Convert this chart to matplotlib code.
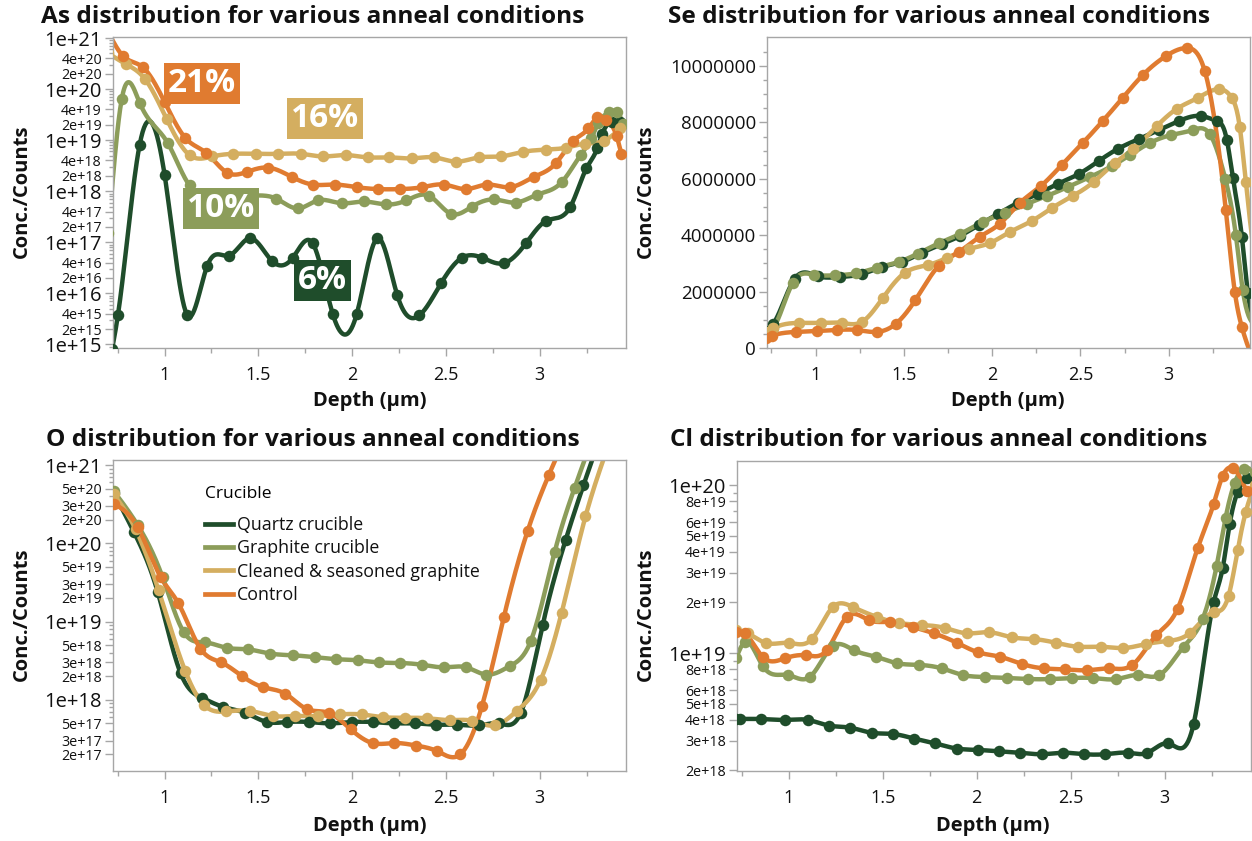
import numpy as np
import matplotlib
matplotlib.use('Agg')
import matplotlib.pyplot as plt
from matplotlib.lines import Line2D
from matplotlib.ticker import FixedLocator, FuncFormatter

plt.rcParams['font.family'] = ['Open Sans', 'DejaVu Sans']

# colours for the four crucible conditions
QUARTZ = '#1f4d2b'
GRAPHITE = '#8c9d5a'
CLEANED = '#d4ae60'
CONTROL = '#e07b30'
series_names = ['Quartz crucible', 'Graphite crucible', 'Cleaned & seasoned graphite', 'Control']

# ---- As (log scale) ----
as_q_x = [0.72, 0.751, 0.867, 1.0, 1.122, 1.228, 1.345, 1.456, 1.573, 1.684, 1.79, 1.897, 2.024, 2.135, 2.241,
          2.358, 2.475, 2.586, 2.692, 2.809, 2.926, 3.032, 3.164, 3.249, 3.308, 3.334, 3.387, 3.43]
as_q = [8e14, 3.7e15, 8.1e18, 2.1e18, 3.7e15, 3.5e16, 5.5e16, 1.2e17, 4.3e16, 5.0e16, 9.5e16, 3.9e15, 3.9e15, 1.2e17,
        9.1e15, 3.7e15, 1.6e16, 5.0e16, 5.0e16, 3.9e16, 9.5e16, 2.6e17, 5.0e17, 2.8e18, 7.1e18, 1.35e19, 2.3e19, 2.3e19]
as_g_x = [0.70, 0.772, 0.867, 1.016, 1.133, 1.24, 1.35, 1.46, 1.594, 1.711, 1.817, 1.944, 2.061, 2.178, 2.289, 2.411,
          2.528, 2.639, 2.756, 2.873, 2.984, 3.117, 3.218, 3.276, 3.313, 3.371, 3.414, 3.446]
as_g = [1.5e17, 6.5e19, 5.4e19, 8.9e18, 1.3e18, 8.9e17, 8.9e17, 8.3e17, 7.2e17, 4.6e17, 6.6e17, 5.8e17, 6.3e17, 5.5e17,
        6.6e17, 8.1e17, 3.6e17, 5.0e17, 6.9e17, 6.0e17, 8.5e17, 1.5e18, 5.1e18, 1.1e19, 2.2e19, 3.5e19, 3.5e19, 2.1e19]
as_c_x = [0.70, 0.793, 0.894, 1.011, 1.133, 1.255, 1.366, 1.488, 1.605, 1.727, 1.843, 1.966, 2.082, 2.199, 2.321, 2.438,
          2.554, 2.676, 2.793, 2.91, 3.032, 3.138, 3.239, 3.345, 3.43]
as_c = [5.0e20, 3.1e20, 1.6e20, 2.6e19, 5.1e18, 4.8e18, 5.4e18, 5.4e18, 5.4e18, 5.4e18, 4.8e18, 5.1e18, 4.6e18, 4.6e18,
        4.4e18, 4.6e18, 3.8e18, 4.6e18, 4.8e18, 5.9e18, 6.5e18, 7.1e18, 8.5e18, 9.8e18, 1.7e19]
as_k_x = [0.70, 0.777, 0.883, 1.0, 1.111, 1.223, 1.334, 1.44, 1.552, 1.679, 1.79, 1.907, 2.024, 2.14, 2.257, 2.374,
          2.49, 2.607, 2.719, 2.841, 2.968, 3.085, 3.18, 3.26, 3.308, 3.355, 3.41, 3.435]
as_k = [1.3e21, 4.5e20, 2.7e20, 5.6e19, 1.1e19, 5.6e18, 2.3e18, 2.4e18, 2.9e18, 1.9e18, 1.35e18, 1.35e18, 1.2e18, 1.1e18,
        1.1e18, 1.2e18, 1.35e18, 1.1e18, 1.35e18, 1.2e18, 1.9e18, 3.5e18, 9.8e18, 1.7e19, 2.8e19, 2.5e19, 1.2e19, 5.4e18]
as_labels = ['6%', '10%', '16%', '21%']
as_label_pos = [(1.843, 1.8e16), (1.302, 4.6e17), (1.854, 2.6e19), (1.2, 1.3e20)]

# ---- Se (linear scale) ----
se_q_x = [0.72, 0.76, 0.881, 1.011, 1.136, 1.261, 1.374, 1.487, 1.6, 1.714, 1.816, 1.924, 2.031, 2.144, 2.258, 2.371,
          2.49, 2.603, 2.711, 2.83, 2.943, 3.057, 3.181, 3.272, 3.329, 3.363, 3.414, 3.448, 3.5]
se_q = [0.6e6, 0.85e6, 2.45e6, 2.55e6, 2.52e6, 2.62e6, 2.87e6, 3.05e6, 3.37e6, 3.68e6, 3.97e6, 4.36e6, 4.75e6, 5.14e6,
        5.46e6, 5.82e6, 6.17e6, 6.63e6, 7.06e6, 7.41e6, 7.73e6, 8.05e6, 8.23e6, 8.05e6, 7.38e6, 6.03e6, 3.94e6, 1.95e6, 0.5e6]
se_g_x = [0.72, 0.76, 0.87, 0.99, 1.11, 1.23, 1.35, 1.47, 1.58, 1.70, 1.82, 1.946, 2.071, 2.195, 2.309, 2.428, 2.552,
          2.677, 2.779, 2.892, 3.011, 3.136, 3.232, 3.32, 3.38, 3.419, 3.5]
se_g = [0.5e6, 0.7e6, 2.3e6, 2.6e6, 2.58e6, 2.65e6, 2.85e6, 3.05e6, 3.35e6, 3.72e6, 4.05e6, 4.47e6, 4.79e6, 5.11e6,
        5.39e6, 5.71e6, 6.06e6, 6.45e6, 6.84e6, 7.27e6, 7.55e6, 7.73e6, 7.59e6, 6.0e6, 4.0e6, 2.06e6, 0.8e6]
se_c_x = [0.72, 0.76, 0.909, 1.028, 1.147, 1.261, 1.38, 1.504, 1.635, 1.742, 1.867, 1.986, 2.099, 2.224, 2.337, 2.456,
          2.575, 2.694, 2.80, 2.932, 3.045, 3.164, 3.283, 3.357, 3.402, 3.436, 3.5]
se_c = [0.55e6, 0.7e6, 0.89e6, 0.89e6, 0.89e6, 0.92e6, 1.77e6, 2.66e6, 2.94e6, 3.19e6, 3.51e6, 3.72e6, 4.11e6, 4.5e6,
        4.96e6, 5.39e6, 5.89e6, 6.56e6, 7.06e6, 7.87e6, 8.48e6, 8.87e6, 9.18e6, 8.87e6, 7.84e6, 5.89e6, 2.5e6]
se_k_x = [0.72, 0.751, 0.892, 1.006, 1.119, 1.232, 1.346, 1.453, 1.565, 1.697, 1.81, 1.929, 2.042, 2.156, 2.275, 2.394,
          2.513, 2.626, 2.739, 2.853, 2.983, 3.102, 3.204, 3.323, 3.374, 3.414, 3.47]
se_k = [0.35e6, 0.43e6, 0.57e6, 0.6e6, 0.64e6, 0.64e6, 0.57e6, 0.85e6, 1.7e6, 2.91e6, 3.4e6, 3.94e6, 4.4e6, 5.14e6,
        5.74e6, 6.49e6, 7.27e6, 8.05e6, 8.87e6, 9.68e6, 10.35e6, 10.64e6, 9.82e6, 4.89e6, 1.99e6, 0.74e6, -0.3e6]

# ---- O (log scale) ----
o_q_x = [0.73, 0.836, 0.963, 1.085, 1.202, 1.313, 1.43, 1.546, 1.653, 1.769, 1.881, 1.997, 2.109, 2.225, 2.337, 2.448,
         2.56, 2.676, 2.782, 2.899, 3.016, 3.138, 3.233, 3.34]
o_q = [4.4e20, 1.4e20, 2.4e19, 2.2e18, 1.05e18, 8.1e17, 6.8e17, 5.2e17, 5.2e17, 5.2e17, 5.0e17, 5.2e17, 5.2e17, 5.0e17,
       5.0e17, 4.8e17, 4.8e17, 4.7e17, 5.0e17, 6.8e17, 9.1e18, 1.1e20, 5.5e20, 3e21]
o_g_x = [0.73, 0.857, 0.989, 1.101, 1.218, 1.334, 1.446, 1.562, 1.684, 1.801, 1.912, 2.029, 2.141, 2.257, 2.374, 2.491,
         2.607, 2.714, 2.841, 2.952, 3.08, 3.186, 3.29]
o_g = [4.6e20, 1.7e20, 3.7e19, 7.4e18, 5.4e18, 4.6e18, 4.4e18, 3.9e18, 3.7e18, 3.5e18, 3.3e18, 3.2e18, 3.0e18, 2.95e18,
       2.8e18, 2.6e18, 2.6e18, 2.1e18, 2.7e18, 5.6e18, 7.8e19, 5.1e20, 2.5e21]
o_c_x = [0.73, 0.846, 0.968, 1.111, 1.212, 1.329, 1.456, 1.578, 1.695, 1.817, 1.934, 2.05, 2.162, 2.284, 2.401, 2.523,
         2.639, 2.761, 2.878, 3.005, 3.117, 3.244, 3.355]
o_c = [4.2e20, 1.5e20, 2.5e19, 2.3e18, 8.5e17, 7.1e17, 7.2e17, 6.2e17, 6.2e17, 6.2e17, 6.5e17, 6.5e17, 6.0e17, 5.9e17,
       5.8e17, 5.5e17, 5.4e17, 4.7e17, 7.2e17, 1.8e18, 1.3e19, 2.2e20, 1.5e21]
o_k_x = [0.73, 0.857, 0.979, 1.074, 1.191, 1.302, 1.414, 1.525, 1.642, 1.759, 1.875, 1.992, 2.109, 2.225, 2.342, 2.454,
         2.576, 2.692, 2.809, 2.936, 3.048, 3.16]
o_k = [3.2e20, 1.6e20, 3.7e19, 1.7e19, 4.5e18, 3.0e18, 2.0e18, 1.45e18, 1.2e18, 7.6e17, 6.8e17, 4.2e17, 2.8e17, 2.8e17,
       2.6e17, 2.2e17, 2.0e17, 8.3e17, 1.15e19, 1.45e20, 7.4e20, 3e21]

# ---- Cl (log scale) ----
cl_q_x = [0.72, 0.739, 0.851, 0.979, 1.101, 1.213, 1.325, 1.443, 1.555, 1.667, 1.779, 1.896, 2.008, 2.12, 2.232, 2.349,
          2.461, 2.573, 2.685, 2.803, 2.909, 3.021, 3.155, 3.261, 3.309, 3.347, 3.389, 3.437, 3.5]
cl_q = [4.05e18, 4.05e18, 4.05e18, 4.0e18, 4.0e18, 3.7e18, 3.6e18, 3.35e18, 3.3e18, 3.1e18, 2.9e18, 2.7e18, 2.65e18,
        2.6e18, 2.55e18, 2.5e18, 2.55e18, 2.5e18, 2.5e18, 2.55e18, 2.55e18, 2.9e18, 3.8e18, 2.0e19, 3.2e19, 5.9e19,
        9.1e19, 1.1e20, 1.2e20]
cl_g_x = [0.72, 0.765, 0.861, 0.995, 1.112, 1.235, 1.347, 1.464, 1.576, 1.693, 1.816, 1.928, 2.045, 2.163, 2.275, 2.392,
          2.509, 2.621, 2.744, 2.861, 2.973, 3.101, 3.203, 3.277, 3.325, 3.373, 3.421, 3.48]
cl_g = [9.3e18, 1.16e19, 8.4e18, 7.4e18, 7.2e18, 1.1e19, 1.04e19, 9.5e18, 8.7e18, 8.5e18, 8.1e18, 7.4e18, 7.2e18, 7.1e18,
        7.0e18, 7.0e18, 7.1e18, 7.1e18, 7.0e18, 7.4e18, 7.4e18, 1.09e19, 1.6e19, 3.3e19, 6.4e19, 1.03e20, 1.25e20, 1.2e20]
cl_c_x = [0.72, 0.781, 0.877, 1.0, 1.123, 1.235, 1.341, 1.469, 1.587, 1.709, 1.832, 1.949, 2.067, 2.189, 2.307, 2.424,
          2.541, 2.664, 2.781, 2.899, 3.016, 3.133, 3.261, 3.341, 3.389, 3.432, 3.48]
cl_c = [1.37e19, 1.31e19, 1.15e19, 1.15e19, 1.21e19, 1.88e19, 1.88e19, 1.64e19, 1.51e19, 1.47e19, 1.41e19, 1.31e19,
        1.33e19, 1.24e19, 1.21e19, 1.15e19, 1.09e19, 1.09e19, 1.07e19, 1.13e19, 1.18e19, 1.31e19, 1.75e19, 2.2e19,
        4.1e19, 6.9e19, 1.0e20]
cl_k_x = [0.72, 0.765, 0.861, 0.979, 1.091, 1.203, 1.309, 1.427, 1.539, 1.661, 1.773, 1.896, 2.008, 2.125, 2.243, 2.36,
          2.472, 2.589, 2.707, 2.829, 2.957, 3.069, 3.176, 3.261, 3.309, 3.363, 3.437]
cl_k = [1.33e19, 1.31e19, 9.5e18, 9.3e18, 9.7e18, 1.04e19, 1.64e19, 1.57e19, 1.53e19, 1.43e19, 1.31e19, 1.15e19,
        1.01e19, 9.5e18, 8.6e18, 8.1e18, 8.0e18, 7.9e18, 8.1e18, 8.5e18, 1.28e19, 1.83e19, 4.2e19, 7.7e19, 1.13e20,
        1.26e20, 9.2e19]

x_major = [1, 1.5, 2, 2.5, 3]
x_minor = [0.75, 1.25, 1.75, 2.25, 2.75, 3.25]
XLIM = (0.725, 3.46)
SPINE = '#a6a6a6'
W, H = 1252, 841


def smooth(x, y, num=700):
    # natural cubic spline through the measured points, like the smoother in the original
    x = np.asarray(x, float)
    y = np.asarray(y, float)
    n = len(x)
    h = np.diff(x)
    A = np.zeros((n, n))
    b = np.zeros(n)
    A[0, 0] = A[-1, -1] = 1
    for i in range(1, n - 1):
        A[i, i - 1] = h[i - 1]
        A[i, i] = 2 * (h[i - 1] + h[i])
        A[i, i + 1] = h[i]
        b[i] = 6 * ((y[i + 1] - y[i]) / h[i] - (y[i] - y[i - 1]) / h[i - 1])
    M = np.linalg.solve(A, b)
    xs = np.linspace(x[0], x[-1], num)
    k = np.clip(np.searchsorted(x, xs) - 1, 0, n - 2)
    t0 = x[k + 1] - xs
    t1 = xs - x[k]
    hk = h[k]
    ys = (M[k] * t0 ** 3 + M[k + 1] * t1 ** 3) / (6 * hk) + (y[k] / hk - M[k] * hk / 6) * t0 \
        + (y[k + 1] / hk - M[k + 1] * hk / 6) * t1
    return xs, ys


def draw(ax, x, y, color, log=True):
    if log:
        xs, ys = smooth(x, np.log10(y))
        ys = 10 ** ys
    else:
        xs, ys = smooth(x, y)
    ax.plot(xs, ys, color=color, lw=3.2, solid_capstyle='round', zorder=2)
    ax.plot(x, y, 'o', color=color, ms=8.3, mew=0, zorder=3)


def sci(v):
    e = int(np.floor(np.log10(v) + 1e-9))
    m = int(round(v / 10 ** e))
    return f'{m}e+{e}'


def style(ax):
    for s in ax.spines.values():
        s.set_color(SPINE)
        s.set_linewidth(1.0)
    ax.set_xlim(*XLIM)
    ax.xaxis.set_major_locator(FixedLocator(x_major))
    ax.xaxis.set_minor_locator(FixedLocator(x_minor))
    ax.xaxis.set_major_formatter(FuncFormatter(lambda v, p: f'{v:g}'))
    ax.tick_params(axis='x', which='major', length=6, width=1, color=SPINE, labelsize=13, pad=7, labelcolor='#111111')
    ax.tick_params(axis='x', which='minor', length=3.5, width=1, color=SPINE)
    ax.tick_params(axis='y', which='both', width=1, color=SPINE, labelcolor='#111111', pad=2)


def log_axis(ax, lo, hi, labeled, ylim):
    ax.set_yscale('log')
    ax.set_ylim(*ylim)
    major = []
    minor = []
    for e in range(lo - 1, hi + 1):
        for m in range(1, 10):
            v = m * 10.0 ** e
            if v < ylim[0] * 0.999 or v > ylim[1] * 1.001:
                continue
            if m == 1 or m in labeled:
                major.append(v)
            else:
                minor.append(v)
    ax.yaxis.set_major_locator(FixedLocator(major))
    ax.yaxis.set_minor_locator(FixedLocator(minor))
    ax.yaxis.set_major_formatter(FuncFormatter(lambda v, p: sci(v)))
    ax.tick_params(axis='y', which='major', length=6)
    ax.tick_params(axis='y', which='minor', length=3, labelleft=False)
    for t, v in zip(ax.yaxis.get_major_ticks(), major):
        t.label1.set_fontsize(14.5 if sci(v).startswith('1e') else 10.3)


fig = plt.figure(figsize=(W / 100, H / 100), dpi=100)


def add_axes(l, r, t, b):
    return fig.add_axes([l / W, 1 - b / H, (r - l) / W, (b - t) / H])


ax_as = add_axes(113, 626, 37, 348)
ax_se = add_axes(767, 1250, 37, 348)
ax_o = add_axes(113, 626, 460, 771)
ax_cl = add_axes(737, 1251, 461, 771)

colors = [QUARTZ, GRAPHITE, CLEANED, CONTROL]

# As panel
for (x, y), c in zip([(as_q_x, as_q), (as_g_x, as_g), (as_c_x, as_c), (as_k_x, as_k)], colors):
    draw(ax_as, x, y, c)
style(ax_as)
log_axis(ax_as, 15, 21, [2, 4], (10 ** 14.93, 10 ** 21.02))
for lab, (px, py), c in zip(as_labels, as_label_pos, colors):
    ax_as.text(px, py, lab, color='white', fontsize=24, weight='bold', ha='center', va='center', zorder=5,
               bbox=dict(boxstyle='square,pad=0.12', fc=c, ec='none'))

# Se panel
for (x, y), c in zip([(se_q_x, se_q), (se_g_x, se_g), (se_c_x, se_c), (se_k_x, se_k)], colors):
    draw(ax_se, x, y, c, log=False)
style(ax_se)
ax_se.set_ylim(0, 11.03e6)
ax_se.yaxis.set_major_locator(FixedLocator([0, 2e6, 4e6, 6e6, 8e6, 10e6]))
ax_se.yaxis.set_minor_locator(FixedLocator(np.arange(0, 11.0e6, 0.5e6)))
ax_se.yaxis.set_major_formatter(FuncFormatter(lambda v, p: f'{int(v)}'))
ax_se.tick_params(axis='y', which='major', length=6, labelsize=13.5)
ax_se.tick_params(axis='y', which='minor', length=3)

# O panel
for (x, y), c in zip([(o_q_x, o_q), (o_g_x, o_g), (o_c_x, o_c), (o_k_x, o_k)], colors):
    draw(ax_o, x, y, c)
style(ax_o)
log_axis(ax_o, 17, 21, [2, 3, 5], (10 ** 17.09, 10 ** 21.064))
handles = [Line2D([], [], color=c, lw=3.4) for c in colors]
leg = ax_o.legend(handles, series_names, title='Crucible', loc='upper left', bbox_to_anchor=(0.162, 0.945),
                  frameon=False, fontsize=12.8, title_fontsize=12.5, handlelength=1.6, handletextpad=0.2,
                  labelspacing=0.3, borderpad=0, alignment='left')
leg._legend_box.sep = 10
for t in leg.get_texts():
    t.set_color('#111111')

# Cl panel
for (x, y), c in zip([(cl_q_x, cl_q), (cl_g_x, cl_g), (cl_c_x, cl_c), (cl_k_x, cl_k)], colors):
    draw(ax_cl, x, y, c)
style(ax_cl)
log_axis(ax_cl, 18, 20, [2, 3, 4, 5, 6, 8], (10 ** 18.298, 10 ** 20.143))

# titles and axis labels
titles = ['As distribution for various anneal conditions', 'Se distribution for various anneal conditions',
          'O distribution for various anneal conditions', 'Cl distribution for various anneal conditions']
title_pos = [(313, 17), (939, 17), (313, 440), (939, 440)]
for txt, (px, py) in zip(titles, title_pos):
    fig.text(px / W, 1 - py / H, txt, ha='center', va='center', fontsize=17.6, weight='bold', color='#111111')

for px, py in [(22, 191), (646, 191), (22, 614), (646, 614)]:
    fig.text(px / W, 1 - py / H, 'Conc./Counts', rotation=90, ha='center', va='center', fontsize=14.5,
             weight='bold', color='#111111')
for px, py in [(370, 401), (1008, 401), (370, 826), (993, 826)]:
    fig.text(px / W, 1 - py / H, 'Depth (µm)', ha='center', va='center', fontsize=14.5, weight='bold',
             color='#111111')

fig.savefig('out.png', dpi=100)
